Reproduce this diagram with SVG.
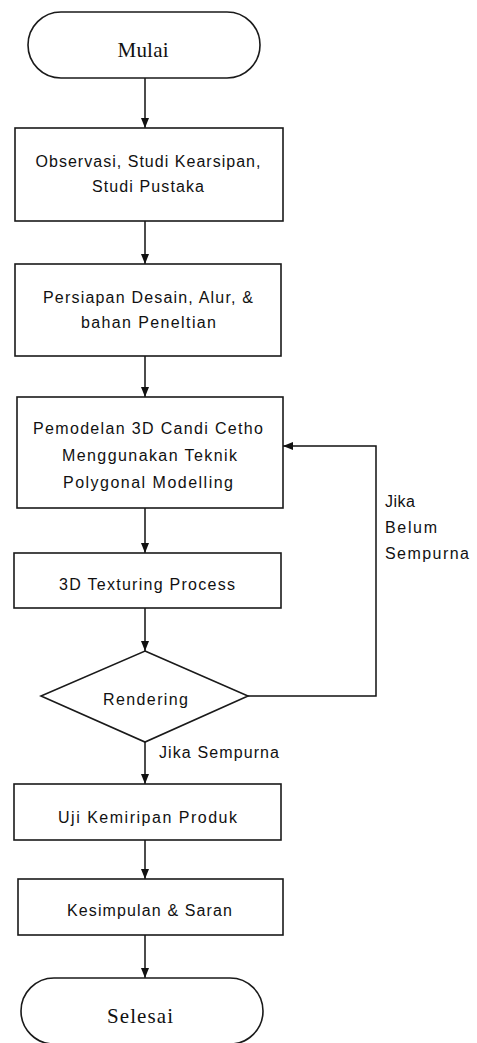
<svg xmlns="http://www.w3.org/2000/svg" width="477" height="1043" viewBox="0 0 477 1043">
<defs>
<marker id="ah" markerUnits="userSpaceOnUse" markerWidth="10" markerHeight="10" viewBox="0 0 10 10" refX="10" refY="5" orient="auto">
<path d="M0,1 L10,5 L0,9 Z" fill="#111"/>
</marker>
<style>
.shape{fill:#fff;stroke:#1a1a1a;stroke-width:1.6}
.conn{fill:none;stroke:#111;stroke-width:1.5;marker-end:url(#ah)}
.t{font-family:"Liberation Sans",Arial,sans-serif;font-size:16px;fill:#111;text-anchor:middle}
.tl{font-family:"Liberation Sans",Arial,sans-serif;font-size:16px;fill:#111}
.ser{font-family:"Liberation Serif","Times New Roman",serif;font-size:21px;fill:#111;text-anchor:middle}
</style>
</defs>
<rect width="477" height="1043" fill="#fff"/>
<g id="connectors">
<path class="conn" d="M145,78 V128"/>
<path class="conn" d="M145,221 V264"/>
<path class="conn" d="M145,356 V397"/>
<path class="conn" d="M145,508 V553"/>
<path class="conn" d="M145,608 V651"/>
<path class="conn" d="M145,742 V784"/>
<path class="conn" d="M145,840 V879"/>
<path class="conn" d="M145,935 V978"/>
<path class="conn" d="M248,696 H376 V446 H283"/>
<text class="tl" x="385" y="507" textLength="30">Jika</text>
<text class="tl" x="385" y="533" textLength="52">Belum</text>
<text class="tl" x="385" y="559" textLength="84">Sempurna</text>
<text class="tl" x="159" y="758" textLength="120">Jika Sempurna</text>
</g>
<g id="mulai">
<rect class="shape" x="28" y="12" width="232" height="66" rx="33" ry="33"/>
<text class="ser" x="143" y="57" textLength="51">Mulai</text>
</g>
<g id="observasi">
<rect class="shape" x="15" y="128" width="268" height="93"/>
<text class="t" x="148" y="167" textLength="225">Observasi, Studi Kearsipan,</text>
<text class="t" x="148" y="192" textLength="112">Studi Pustaka</text>
</g>
<g id="persiapan">
<rect class="shape" x="15" y="264" width="266" height="92"/>
<text class="t" x="148" y="303" textLength="210">Persiapan Desain, Alur, &amp;</text>
<text class="t" x="148.5" y="328" textLength="135">bahan Peneltian</text>
</g>
<g id="pemodelan">
<rect class="shape" x="17" y="397" width="266" height="111"/>
<text class="t" x="148" y="434" textLength="230">Pemodelan 3D Candi Cetho</text>
<text class="t" x="149.5" y="461" textLength="175">Menggunakan Teknik</text>
<text class="t" x="148" y="488" textLength="170">Polygonal Modelling</text>
</g>
<g id="texturing">
<rect class="shape" x="14" y="553" width="267" height="55"/>
<text class="t" x="147" y="590" textLength="176">3D Texturing Process</text>
</g>
<g id="rendering">
<polygon class="shape" points="145,651 248,696 145,742 41,696"/>
<text class="t" x="145.5" y="705" textLength="85">Rendering</text>
</g>
<g id="uji">
<rect class="shape" x="14" y="784" width="267" height="56"/>
<text class="t" x="147.5" y="823" textLength="179">Uji Kemiripan Produk</text>
</g>
<g id="kesimpulan">
<rect class="shape" x="18" y="879" width="265" height="56"/>
<text class="t" x="149.5" y="916" textLength="165">Kesimpulan &amp; Saran</text>
</g>
<g id="selesai">
<rect class="shape" x="21" y="978" width="242" height="66" rx="33" ry="33"/>
<text class="ser" x="140" y="1023" textLength="66">Selesai</text>
</g>
</svg>
